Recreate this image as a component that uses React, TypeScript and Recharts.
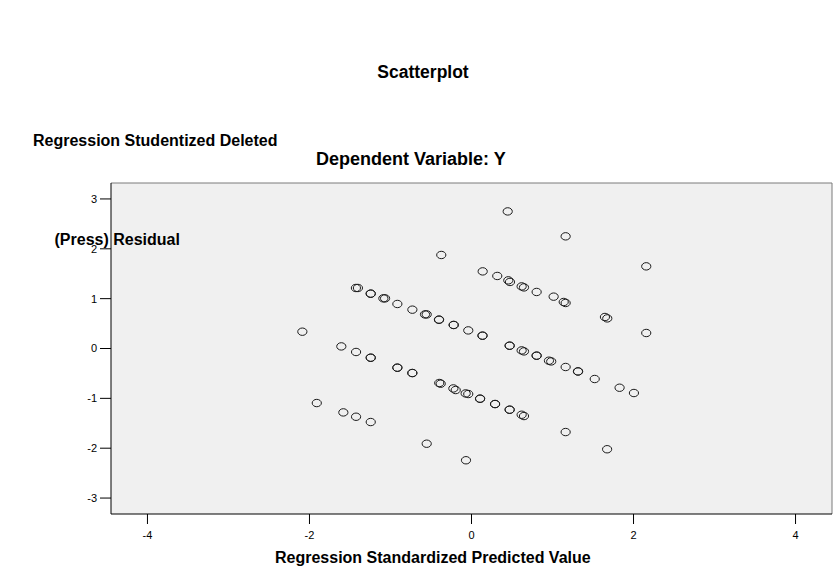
import React from 'react';
import {
  ScatterChart,
  Scatter,
  XAxis,
  YAxis,
  CartesianGrid,
  ReferenceLine,
} from 'recharts';

// Regression Standardized Predicted Value (x) / Studentized Deleted Residual (y)
const predicted = [
  0.447, 1.162, -0.373, 2.157, 2.157, -2.088,
  -1.427, -1.402, -1.244, -1.244, -1.088, -1.067, -0.915, -0.73, -0.574, -0.553,
  -0.401, -0.401, -0.22, -0.22, -0.04, 0.136, 0.136,
  0.138, 0.318, 0.454, 0.475, 0.619, 0.648, 0.804, 1.014, 1.138, 1.162, 1.647, 1.676,
  -1.607, -1.425, -1.244, -1.244, -0.915, -0.915, -0.73, -0.73, -0.398, -0.38,
  -0.224, -0.195, -0.072, -0.04, 0.106, 0.106, 0.291, 0.291, 0.471, 0.471, 0.619, 0.648,
  0.471, 0.471, 0.619, 0.648, 0.804, 0.804, 0.956, 0.984, 1.162, 1.315, 1.315, 1.521,
  1.828, 2.005,
  -1.91, -1.582, -1.425, -1.244, -0.553, -0.068, 1.162, 1.674,
];

const residual = [
  2.75, 2.25, 1.876, 1.648, 0.311, 0.337,
  1.214, 1.214, 1.1, 1.1, 1.006, 1.006, 0.893, 0.779, 0.684, 0.684,
  0.578, 0.578, 0.472, 0.472, 0.363, 0.257, 0.257,
  1.547, 1.455, 1.367, 1.335, 1.246, 1.226, 1.134, 1.04, 0.933, 0.913, 0.632, 0.604,
  0.042, -0.07, -0.185, -0.185, -0.385, -0.385, -0.492, -0.492, -0.692, -0.706,
  -0.801, -0.833, -0.901, -0.913, -1.007, -1.007, -1.114, -1.114, -1.228, -1.228, -1.329, -1.355,
  0.056, 0.056, -0.038, -0.058, -0.144, -0.144, -0.245, -0.259, -0.371, -0.46, -0.46, -0.612,
  -0.787, -0.893,
  -1.094, -1.282, -1.369, -1.475, -1.91, -2.242, -1.676, -2.021,
];

const xTicks = [-4, -2, 0, 2, 4];
const yTicks = [-3, -2, -1, 0, 1, 2, 3];

const points = predicted.map((x, i) => ({ x, y: residual[i] }));

const FONT = 'Liberation Sans, Arial, sans-serif';

const Ring = (props: any) => (
  <ellipse
    cx={props.cx}
    cy={props.cy}
    rx={4.6}
    ry={3.7}
    fill="none"
    stroke="#1a1a1a"
    strokeWidth={1}
  />
);

export default function App() {
  return (
    <div style={{ position: 'absolute', left: 0, top: 0, width: 836, height: 569, background: '#fff' }}>
      <ScatterChart
        width={836}
        height={569}
        margin={{ top: 183, right: 4, bottom: 25, left: 71 }}
      >
        <CartesianGrid fill="#F0F0F0" horizontal={false} vertical={false} />
        <XAxis
          type="number"
          dataKey="x"
          domain={[-4.45, 4.45]}
          ticks={xTicks}
          height={30}
          tickSize={10}
          tickMargin={7}
          axisLine={{ stroke: '#000' }}
          tickLine={{ stroke: '#000' }}
          tick={{ fontSize: 11, fill: '#000', fontFamily: FONT }}
          allowDataOverflow
        />
        <YAxis
          type="number"
          dataKey="y"
          domain={[-3.32, 3.32]}
          ticks={yTicks}
          width={40}
          tickSize={11}
          tickMargin={3}
          axisLine={{ stroke: '#000' }}
          tickLine={{ stroke: '#000' }}
          tick={{ fontSize: 11, fill: '#000', fontFamily: FONT }}
          allowDataOverflow
        />
        <ReferenceLine y={3.32} stroke="#7a7a7a" />
        <ReferenceLine x={4.45} stroke="#7a7a7a" />
        <Scatter data={points} shape={Ring} isAnimationActive={false} />
      </ScatterChart>
      <svg
        width={836}
        height={569}
        style={{ position: 'absolute', left: 0, top: 0, pointerEvents: 'none' }}
      >
        <g fontFamily={FONT} fontWeight="bold" fill="#000">
          <text x={423} y={78} fontSize={17.5} textAnchor="middle">Scatterplot</text>
          <text x={33} y={146} fontSize={16}>Regression Studentized Deleted</text>
          <text x={316} y={165} fontSize={18}>Dependent Variable: Y</text>
          <text x={54.5} y={245} fontSize={16}>(Press) Residual</text>
          <text x={275} y={563} fontSize={16}>Regression Standardized Predicted Value</text>
        </g>
      </svg>
    </div>
  );
}
